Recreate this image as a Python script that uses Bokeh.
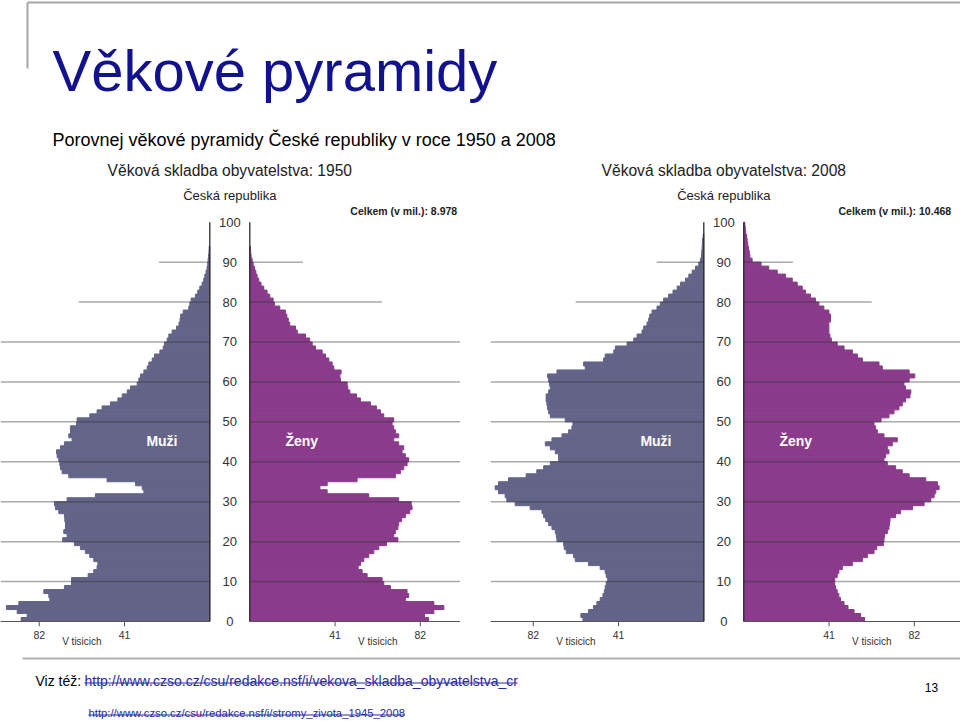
from bokeh.plotting import figure
from bokeh.layouts import column, row
from bokeh.models import Range1d, ColumnDataSource, Spacer
from bokeh.core.properties import value
from bokeh.embed import file_html
from bokeh.resources import INLINE

# ---------------- data (thousands of persons by single year of age) ----------------
AGES = list(range(0, 101))

MALE_1950 = [
    90.7, 87.8, 92.6, 97.8, 91.8, 76.9, 77.4, 79.8, 69.9, 66.5,
    66.5, 58.5, 55.8, 54.2, 53.8, 55.8, 57.7, 59.8, 62.2, 65.1,
    70.7, 68.6, 70.2, 69.4, 69.4, 69.7, 69.9, 72.6, 74.2, 74.7,
    68.6, 55.0, 31.7, 32.5, 35.7, 49.4, 67.8, 71.0, 71.8, 72.1,
    72.6, 73.4, 73.7, 71.8, 69.9, 66.2, 67.8, 67.0, 67.0, 64.1,
    63.8, 57.7, 54.2, 51.8, 47.8, 44.2, 42.1, 39.7, 38.1, 34.9,
    34.1, 33.3, 31.7, 30.1, 29.3, 27.7, 26.6, 24.0, 22.4, 21.8,
    20.5, 19.7, 18.1, 16.0, 14.8, 14.3, 14.0, 12.8, 10.1, 9.6,
    9.0, 6.9, 5.8, 4.8, 3.7, 2.9, 2.4, 1.8, 1.3, 1.0,
    0.8, 0.6, 0.4, 0.3, 0.0, 0.0, 0.0, 0.0, 0.0, 0.0, 0.0,
]
FEMALE_1950 = [
    86.0, 84.0, 88.5, 93.3, 88.5, 74.8, 76.4, 75.6, 67.6, 64.4,
    63.6, 56.4, 54.0, 52.1, 53.2, 54.8, 57.2, 59.6, 62.0, 65.7,
    71.2, 69.2, 70.0, 71.2, 71.6, 73.0, 74.8, 76.9, 78.0, 77.6,
    71.6, 57.2, 37.2, 33.7, 37.2, 51.6, 70.0, 72.4, 74.0, 75.6,
    76.4, 74.8, 73.2, 74.0, 71.6, 69.2, 71.6, 70.0, 69.2, 68.4,
    69.2, 64.4, 62.8, 60.9, 58.0, 53.2, 51.3, 48.1, 47.1, 46.8,
    43.6, 43.3, 43.9, 40.4, 39.6, 38.0, 36.4, 34.8, 31.6, 30.0,
    28.8, 26.8, 22.8, 22.0, 19.2, 18.5, 17.8, 17.1, 14.4, 11.9,
    11.2, 9.6, 8.3, 6.7, 5.4, 4.3, 3.5, 2.9, 2.2, 1.6,
    1.1, 0.6, 0.4, 0.3, 0.0, 0.0, 0.0, 0.0, 0.0, 0.0, 0.0,
]
MALE_2008 = [
    58.1, 59.1, 55.4, 53.0, 51.4, 49.8, 48.5, 47.8, 47.4, 46.9,
    46.2, 46.9, 47.4, 49.8, 55.4, 61.8, 62.6, 66.1, 67.1, 67.4,
    70.6, 70.9, 71.4, 73.0, 74.6, 76.0, 77.0, 77.8, 83.5, 90.7,
    94.7, 95.5, 98.7, 100.3, 98.7, 93.9, 85.4, 80.3, 77.0, 73.8,
    69.8, 69.8, 71.4, 73.8, 76.2, 73.0, 68.2, 65.0, 63.4, 62.9,
    66.6, 73.8, 74.6, 75.1, 75.4, 75.8, 75.8, 74.6, 73.8, 74.2,
    74.6, 75.1, 70.6, 57.0, 57.8, 48.2, 47.4, 43.3, 42.5, 36.9,
    33.7, 32.1, 29.7, 28.9, 27.3, 26.5, 26.0, 24.9, 22.5, 20.9,
    19.3, 16.9, 14.8, 12.8, 11.2, 8.8, 7.2, 5.6, 4.0, 2.4,
    1.6, 1.1, 1.0, 0.8, 0.7, 0.6, 0.3, 0.0, 0.0, 0.0, 0.0,
]
FEMALE_2008 = [
    58.1, 56.2, 53.0, 50.1, 48.2, 46.5, 45.7, 44.9, 44.1, 43.7,
    43.7, 44.9, 45.7, 47.4, 52.2, 57.0, 59.4, 62.6, 63.9, 67.1,
    67.4, 67.7, 69.0, 69.8, 70.1, 70.3, 73.0, 75.4, 81.1, 86.7,
    89.9, 91.5, 92.3, 93.9, 93.1, 87.5, 79.5, 76.2, 73.0, 69.0,
    67.4, 68.2, 69.8, 69.0, 71.4, 73.8, 67.4, 64.2, 63.4, 62.6,
    66.0, 69.8, 72.2, 74.6, 76.2, 77.8, 79.9, 80.3, 77.8, 77.0,
    79.5, 82.2, 79.5, 66.6, 65.0, 57.0, 54.6, 52.2, 48.2, 44.9,
    42.1, 41.4, 40.9, 40.9, 40.9, 41.7, 41.7, 40.9, 38.5, 36.1,
    34.5, 32.1, 29.7, 28.1, 25.7, 23.3, 20.1, 16.1, 12.0, 8.3,
    4.0, 2.9, 2.6, 2.2, 1.9, 1.6, 1.3, 0.9, 0.7, 0.5, 0.0,
]

AGE_TICKS = [0, 10, 20, 30, 40, 50, 60, 70, 80, 90, 100]
SCALE_TICKS = [41, 82]
YEARS = ["1950", "2008"]
TOTALS = ["8.978", "10.468"]
UNIT_LABEL = "V tisicich"
SEX_LABELS = ["Muži", "Ženy"]

TITLE = "Věkové pyramidy"
SUBTITLE = "Porovnej věkové pyramidy České republiky v roce 1950 a 2008"
SEE_ALSO = "Viz též: "
URL1 = "http://www.czso.cz/csu/redakce.nsf/i/vekova_skladba_obyvatelstva_cr"
URL2 = "http://www.czso.cz/csu/redakce.nsf/i/stromy_zivota_1945_2008"
PAGE_NO = "13"

# ---------------- style ----------------
FONT = "Liberation Sans"
MALE_COLOR = "#646489"
FEMALE_COLOR = "#8B3B8B"
TEXT_DARK = "#222222"
LINK = "#2A2AA0"

PX_PER_K = 2.08
PX_PER_YEAR = 3.993
PANEL_H = 500
ZERO_PX = 466
GAP = 20 / PX_PER_K


def txt(p, x, y, t, size, color="#000000", align="left", baseline="alphabetic",
        font=FONT, style="normal"):
    p.text(x=x, y=y, text=t, text_font=value(font), text_font_size=value(size),
           text_color=color, text_align=align, text_baseline=baseline,
           text_font_style=style)


def make_pyramid(year, total, male, female, width, center_px, short_grid):
    x_start = -center_px / PX_PER_K
    x_end = (width - center_px) / PX_PER_K
    y_start = -(PANEL_H - ZERO_PX) / PX_PER_YEAR
    y_end = ZERO_PX / PX_PER_YEAR
    p = figure(width=width, height=PANEL_H,
               x_range=Range1d(x_start, x_end), y_range=Range1d(y_start, y_end),
               output_backend="svg", toolbar_location=None,
               x_axis_location=None, y_axis_location=None, min_border=0)
    p.grid.visible = False
    p.outline_line_color = None
    p.background_fill_color = "white"
    p.border_fill_color = "white"

    m_ages = [a for a, v in zip(AGES, male) if v > 0]
    m_vals = [v for v in male if v > 0]
    f_ages = [a for a, v in zip(AGES, female) if v > 0]
    f_vals = [v for v in female if v > 0]
    src_m = ColumnDataSource(dict(bottom=m_ages, top=[a + 1 for a in m_ages],
                                  left=[-(GAP + v) for v in m_vals],
                                  right=[-GAP] * len(m_vals)))
    src_f = ColumnDataSource(dict(bottom=f_ages, top=[a + 1 for a in f_ages],
                                  left=[GAP] * len(f_vals),
                                  right=[GAP + v for v in f_vals]))
    p.quad(source=src_m, left="left", right="right", bottom="bottom", top="top",
           fill_color=MALE_COLOR, line_color=MALE_COLOR, line_width=1.0)
    p.quad(source=src_f, left="left", right="right", bottom="bottom", top="top",
           fill_color=FEMALE_COLOR, line_color=FEMALE_COLOR, line_width=1.0)

    # horizontal guide lines every 10 years
    gy = [a for a in AGE_TICKS if 0 < a < 100]
    full_m = -x_start - GAP
    full_f = x_end - GAP
    lm = [short_grid.get(a, (full_m, full_f))[0] for a in gy]
    lf = [short_grid.get(a, (full_m, full_f))[1] for a in gy]
    p.segment(x0=[-GAP] * len(gy), x1=[-(GAP + l) for l in lm], y0=gy, y1=gy,
              line_color="#333333", line_alpha=0.42, line_width=1.5)
    p.segment(x0=[GAP] * len(gy), x1=[GAP + l for l in lf], y0=gy, y1=gy,
              line_color="#333333", line_alpha=0.42, line_width=1.5)

    # vertical axes at the inner edges
    p.segment(x0=[-GAP, GAP], x1=[-GAP, GAP], y0=[0, 0], y1=[AGE_TICKS[-1]] * 2,
              line_color="#2a2a2a", line_width=1.3)
    # base line
    p.segment(x0=[-GAP, GAP], x1=[x_start, x_end], y0=[0, 0], y1=[0, 0],
              line_color="#555555", line_width=1.2)
    # scale ticks
    xs = [-(GAP + t) for t in SCALE_TICKS] + [GAP + t for t in SCALE_TICKS]
    p.segment(x0=xs, x1=xs, y0=[0] * 4, y1=[-1.2] * 4, line_color="#555555", line_width=1)
    txt(p, xs, [-3.3] * 4, [str(t) for t in SCALE_TICKS] * 2, "10.5px", "#333333",
        "center", "middle")
    mid = (SCALE_TICKS[0] + SCALE_TICKS[1]) / 2
    txt(p, [-(GAP + mid), GAP + mid], [-5.1] * 2, [UNIT_LABEL] * 2, "10px", "#333333",
        "center", "middle")

    # age labels
    txt(p, [0] * len(AGE_TICKS), AGE_TICKS, [str(a) for a in AGE_TICKS], "13px",
        "#333333", "center", "middle")

    # sex labels inside bars
    txt(p, [-(GAP + 23), GAP + 25], [45.1, 45.1], SEX_LABELS, "14px", "white",
        "center", "middle", style="bold")

    # headers
    txt(p, [0], [112.9], ["Věková skladba obyvatelstva: " + year], "15.6px", TEXT_DARK,
        "center", "middle")
    txt(p, [0], [106.7], ["Česká republika"], "13px", TEXT_DARK, "center", "middle")
    txt(p, [109.3], [102.9], ["Celkem (v mil.): " + total], "10.5px", TEXT_DARK,
        "right", "middle", style="bold")
    return p


left = make_pyramid(YEARS[0], TOTALS[0], MALE_1950, FEMALE_1950, 460, 229.3,
                    {90: (24.5, 25.5), 80: (63.0, 63.5)})
right = make_pyramid(YEARS[1], TOTALS[1], MALE_2008, FEMALE_2008, 470, 233.3,
                     {90: (22.6, 23.6), 80: (61.6, 61.5)})


def blank(w, h):
    p = figure(width=w, height=h, x_range=Range1d(0, w), y_range=Range1d(h, 0),
               output_backend="svg", toolbar_location=None,
               x_axis_location=None, y_axis_location=None, min_border=0)
    p.grid.visible = False
    p.outline_line_color = None
    p.background_fill_color = "white"
    p.border_fill_color = "white"
    return p


hdr = blank(960, 155)
hdr.segment(x0=[27, 27], y0=[2, 2], x1=[960, 27], y1=[2, 68],
            line_color="#a8a8a8", line_width=2)
txt(hdr, [52], [70], [TITLE], "58px", "#12128F")
txt(hdr, [52], [139], [SUBTITLE], "18px", "#000000")

ftr = blank(960, 66)
ftr.segment(x0=[22], y0=[3], x1=[960], y1=[3], line_color="#b0b0b0", line_width=2)
txt(ftr, [35], [25], [SEE_ALSO], "14px", "#000000")
txt(ftr, [84], [25], [URL1], "14px", LINK)
ftr.segment(x0=[84], y0=[27.5], x1=[517], y1=[27.5], line_color=LINK, line_width=1)
txt(ftr, [931], [32], [PAGE_NO], "12px", "#000000", "center", "middle")
txt(ftr, [88], [57], [URL2], "11.3px", LINK)
ftr.segment(x0=[88], y0=[59.5], x1=[404], y1=[59.5], line_color=LINK, line_width=1)

layout = column(hdr, row(left, Spacer(width=30, height=PANEL_H), right), ftr)

with open("out.html", "w") as f:
    f.write(file_html(layout, INLINE))
